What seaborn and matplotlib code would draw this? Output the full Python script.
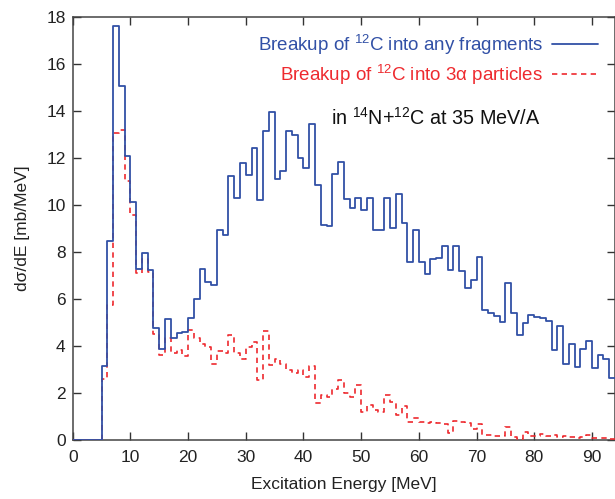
import numpy as np
import pandas as pd
import matplotlib
matplotlib.use("Agg")
import matplotlib.pyplot as plt
import seaborn as sns
from matplotlib.lines import Line2D

# ---------------- data ----------------
energy_edges = np.arange(0, 95, 1)  # MeV, 1 MeV bins

any_fragments = [
    0, 0, 0, 0, 0, 3.15, 8.48, 17.6, 15.06, 12.06,
    10.14, 7.26, 7.94, 7.22, 4.75, 3.88, 5.15, 4.32, 4.53, 4.58,
    5.2, 6.0, 7.28, 6.71, 6.6, 8.94, 8.7, 11.23, 10.31, 11.77,
    11.29, 12.41, 10.2, 13.15, 13.93, 11.09, 11.43, 13.16, 12.95, 12.01,
    11.57, 13.45, 10.85, 9.16, 9.12, 11.3, 11.84, 10.24, 9.86, 10.28,
    9.76, 10.31, 8.94, 8.94, 10.31, 9.01, 10.45, 9.22, 7.55, 8.94,
    7.55, 7.05, 7.68, 7.73, 8.25, 7.21, 8.25, 7.2, 6.47, 6.81,
    7.77, 5.54, 5.42, 5.28, 5.0, 6.68, 5.42, 4.47, 4.96, 5.32,
    5.25, 5.18, 5.06, 3.83, 4.85, 3.22, 4.1, 3.12, 3.85, 4.2,
    3.08, 3.6, 3.44, 2.63,
]

three_alpha = [
    0, 0, 0, 0, 0, 2.58, 5.74, 13.05, 13.2, 11.03,
    9.57, 7.09, 7.69, 7.16, 4.51, 3.6, 4.33, 3.69, 3.83, 3.56,
    4.66, 4.33, 4.08, 3.97, 3.24, 3.8, 3.69, 4.48, 3.69, 3.43,
    3.97, 4.17, 2.57, 4.65, 3.19, 3.43, 3.23, 2.98, 2.87, 2.98,
    2.7, 3.15, 1.56, 1.91, 1.84, 2.18, 2.55, 2.01, 1.84, 2.34,
    1.18, 1.49, 1.28, 1.21, 1.91, 1.63, 1.06, 1.45, 0.75, 0.95,
    0.75, 0.71, 0.75, 0.71, 0.68, 0.28, 0.8, 0.75, 0.72, 0.47,
    0.66, 0.22, 0.21, 0.15, 0.15, 0.54, 0.14, 0.05, 0.33, 0.17,
    0.15, 0.24, 0.18, 0.21, 0.14, 0.18, 0.14, 0.1, 0.14, 0.21,
    0.07, 0.1, 0.07, 0.06,
]

labels = ["Breakup of $^{12}$C into any fragments",
          "Breakup of $^{12}$C into 3\u03b1 particles"]
annotation = "in $^{14}$N+$^{12}$C at 35 MeV/A"
x_ticks = [0, 10, 20, 30, 40, 50, 60, 70, 80, 90]
y_ticks = [0, 2, 4, 6, 8, 10, 12, 14, 16, 18]

# ---------------- style ----------------
sns.set_theme(style="ticks")
plt.rcParams["font.family"] = ["Liberation Sans", "DejaVu Sans"]
plt.rcParams["mathtext.fontset"] = "custom"
plt.rcParams["mathtext.rm"] = "Liberation Sans"
plt.rcParams["mathtext.it"] = "Liberation Sans:italic"

BLUE = "#3150a6"
RED = "#ee2a2f"
DASH = (0, (3.2, 2.6))

centers = (energy_edges[:-1] + energy_edges[1:]) / 2
df = pd.DataFrame({"E": centers, "any": any_fragments, "alpha": three_alpha})
e_lo, e_hi = float(energy_edges[0]), float(energy_edges[-1])

fig = plt.figure(figsize=(6.15, 4.99), dpi=100)
ax = fig.add_axes([0.1182, 0.1182, 0.8818, 0.8483])

sns.histplot(data=df, x="E", weights="alpha", binwidth=1, binrange=(e_lo, e_hi),
             element="step", fill=False, color=RED, linewidth=1.2,
             linestyle=DASH, zorder=3, ax=ax)
sns.histplot(data=df, x="E", weights="any", binwidth=1, binrange=(e_lo, e_hi),
             element="step", fill=False, color=BLUE, linewidth=1.3, zorder=3, ax=ax)

ax.set_xlim(0, 94)
ax.set_ylim(0, 18)
ax.set_xticks(x_ticks)
ax.set_yticks(y_ticks)
ax.set_xlabel("Excitation Energy [MeV]", fontsize=12.5, color="#222222", labelpad=9)
ax.set_ylabel("d\u03c3/dE [mb/MeV]", fontsize=12.5, color="#222222", labelpad=12)
ax.tick_params(direction="in", top=True, right=True, length=6, width=1,
               labelsize=12.5, colors="#333333", labelcolor="#222222", pad=5)
ax.tick_params(axis="x", pad=7)
for s in ax.spines.values():
    s.set_color("#444444")
    s.set_linewidth(1.1)

handles = [Line2D([], [], color=BLUE, linewidth=1.3),
           Line2D([], [], color=RED, linewidth=1.2, linestyle=DASH)]
leg = ax.legend(handles, labels, loc="upper right", bbox_to_anchor=(0.968, 0.962),
                frameon=False, markerfirst=False, handlelength=2.45, handletextpad=0.45,
                labelspacing=0.3, borderpad=0, borderaxespad=0, fontsize=13.5,
                labelcolor=[BLUE, RED])

ax.text(44.8, 13.7, annotation, fontsize=14.2, color="#111111", va="center", ha="left")

fig.savefig("out.png", dpi=100)
